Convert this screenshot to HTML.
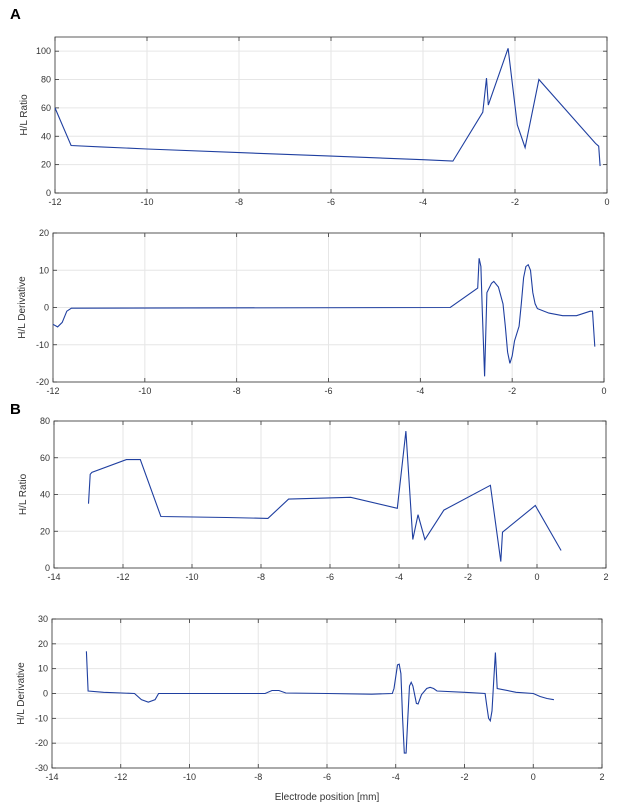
<!DOCTYPE html>
<html><head><meta charset="utf-8"><style>
body{margin:0;background:#fff;font-family:"Liberation Sans",sans-serif}
svg{display:block}
</style></head><body>
<svg id="c" width="618" height="810">
<text x="10" y="19" font-size="15" font-weight="bold" fill="#000">A</text>
<text x="10" y="414" font-size="15" font-weight="bold" fill="#000">B</text>
<text x="327" y="800" font-size="10" fill="#333" text-anchor="middle">Electrode position [mm]</text>
</svg>
<script>
const aRatioX=[-12,-11.65,-11,-10,-8,-6,-4,-3.35,-2.7,-2.62,-2.58,-2.15,-1.95,-1.78,-1.48,-0.25,-0.18,-0.15];
const aRatioY=[60,33.5,32.5,31,28.5,26,23.5,22.5,57,81,62,102,48,32,80,35,33,19];
const aDerX=[-12,-11.9,-11.8,-11.7,-11.6,-3.35,-2.75,-2.72,-2.68,-2.65,-2.6,-2.55,-2.45,-2.4,-2.3,-2.2,-2.15,-2.1,-2.05,-2.0,-1.95,-1.85,-1.8,-1.75,-1.7,-1.65,-1.6,-1.55,-1.5,-1.45,-1.2,-0.9,-0.6,-0.3,-0.25,-0.2];
const aDerY=[-4.5,-5.2,-4,-1,-0.2,0,5.2,13.2,11,-1,-18.5,4,6.5,7,5.5,1,-5,-12,-15,-13,-9,-5,1,8,11,11.5,10,4,1,-0.3,-1.5,-2.2,-2.2,-1,-1,-10.5];
const bRatioX=[-13,-12.95,-12.9,-11.9,-11.5,-10.9,-9,-7.8,-7.2,-5.4,-4.05,-3.8,-3.6,-3.45,-3.25,-2.7,-1.35,-1.05,-1.0,-0.05,0.7];
const bRatioY=[35,51,52,59,59,28,27.5,27,37.5,38.5,32.5,74.5,15.5,29,15.5,31.5,45,3.5,19.5,34,9.5];
const bDerX=[-13,-12.95,-12.5,-11.6,-11.4,-11.2,-11,-10.9,-7.8,-7.6,-7.4,-7.2,-6,-4.7,-4.1,-4.05,-3.95,-3.9,-3.85,-3.8,-3.75,-3.7,-3.65,-3.6,-3.55,-3.5,-3.4,-3.35,-3.25,-3.1,-3,-2.9,-2.8,-2,-1.4,-1.35,-1.3,-1.25,-1.2,-1.15,-1.1,-1.05,-0.5,0,0.2,0.4,0.6];
const bDerY=[17,1,0.5,0,-2.5,-3.5,-2.5,0,0,1.2,1.2,0.2,0,-0.3,0,2,11.5,11.8,8,-10,-24,-24,-10,3,4.5,3,-4,-4.2,-0.5,2,2.5,2,1,0.5,0,-5,-10,-11,-7,5,16.5,2,0.5,0,-1.2,-2,-2.5];
const aXTicks=[-12,-10,-8,-6,-4,-2,0];
const bXTicks=[-14,-12,-10,-8,-6,-4,-2,0,2];
const aRatioTicks=[0,20,40,60,80,100];
const aDerTicks=[-20,-10,0,10,20];
const bRatioTicks=[0,20,40,60,80];
const bDerTicks=[-30,-20,-10,0,10,20,30];
const NS='http://www.w3.org/2000/svg';
const svg=document.getElementById('c');
function mk(tag,attrs,parent){const e=document.createElementNS(NS,tag);for(const k in attrs)e.setAttribute(k,attrs[k]);(parent||svg).appendChild(e);return e;}
function panel(name,L,R,T,B,x0,x1,y0,y1,xt,yt,xs,ys,ylabel){
  const g=mk('g',{});
  
  
  const sx=v=>L+(v-x0)/(x1-x0)*(R-L);
  const sy=v=>B-(v-y0)/(y1-y0)*(B-T);
  mk('rect',{x:L,y:T,width:R-L,height:B-T,fill:'#fff'},g);
  xt.forEach(v=>{const x=sx(v);
    const l=mk('line',{x1:x,x2:x,y1:T,y2:B,stroke:'#e6e6e6','stroke-width':1},g);
    
    mk('line',{x1:x,x2:x,y1:B,y2:B-4,stroke:'#333','stroke-width':0.8},g);
    mk('line',{x1:x,x2:x,y1:T,y2:T+4,stroke:'#333','stroke-width':0.8},g);
    const t=mk('text',{x:x,y:B+12,'font-size':9,fill:'#333','text-anchor':'middle'},g);
    t.textContent=v;});
  yt.forEach(v=>{const y=sy(v);
    const l=mk('line',{x1:L,x2:R,y1:y,y2:y,stroke:'#e6e6e6','stroke-width':1},g);
    
    mk('line',{x1:L,x2:L+4,y1:y,y2:y,stroke:'#333','stroke-width':0.8},g);
    mk('line',{x1:R,x2:R-4,y1:y,y2:y,stroke:'#333','stroke-width':0.8},g);
    const t=mk('text',{x:L-4,y:y+3,'font-size':9,fill:'#333','text-anchor':'end'},g);
    t.textContent=v;});
  const fr=mk('rect',{x:L,y:T,width:R-L,height:B-T,fill:'none',stroke:'#333','stroke-width':0.8},g);
  
  const pts=xs.map((v,i)=>sx(v).toFixed(1)+','+sy(ys[i]).toFixed(1)).join(' ');
  const p=mk('polyline',{points:pts,fill:'none',stroke:'#1f3fa0','stroke-width':1.1},g);
  
  const cy=(T+B)/2;
  const yl=mk('text',{x:L-28,y:cy,'font-size':10,fill:'#333','text-anchor':'middle',transform:'rotate(-90 '+(L-28)+' '+cy+')'},g);
  yl.textContent=ylabel;
}
panel('panel-a-ratio-chart',55,607,37,193,-12,0,0,110,aXTicks,aRatioTicks,aRatioX,aRatioY,'H/L Ratio');
panel('panel-a-derivative-chart',53,604,233,382,-12,0,-20,20,aXTicks,aDerTicks,aDerX,aDerY,'H/L Derivative');
panel('panel-b-ratio-chart',54,606,421,568,-14,2,0,80,bXTicks,bRatioTicks,bRatioX,bRatioY,'H/L Ratio');
panel('panel-b-derivative-chart',52,602,619,768,-14,2,-30,30,bXTicks,bDerTicks,bDerX,bDerY,'H/L Derivative');
</script>
</body></html>
